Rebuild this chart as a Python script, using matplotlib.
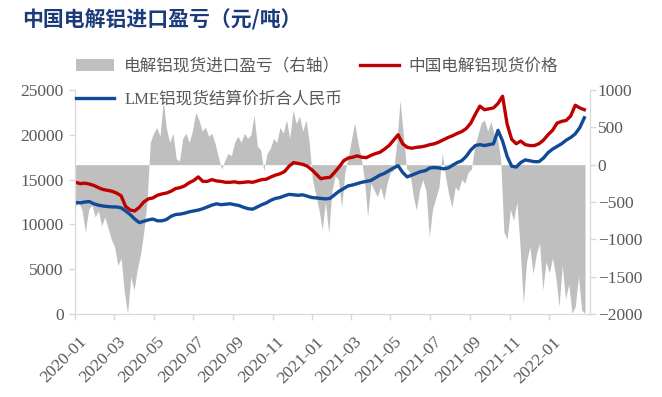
import numpy as np
import pandas as pd
import matplotlib
matplotlib.use("Agg")
import matplotlib.pyplot as plt
import matplotlib.dates as mdates
import matplotlib.transforms as mtransforms
from matplotlib.patches import Patch
from matplotlib.lines import Line2D

# weekly prices (yuan/ton), starting 2020-01-02
price_dates = pd.date_range("2020-01-02", periods=113, freq="7D")
cn_spot = [
    14700, 14550, 14600, 14500, 14350, 14100, 13900, 13800, 13700, 13500,
    13200, 12000, 11600, 11500, 11900, 12500, 12850, 12950, 13250, 13400,
    13500, 13700, 14000, 14100, 14300, 14650, 14900, 15300, 14800, 14800,
    15000, 14850, 14800, 14700, 14700, 14750, 14650, 14700, 14750, 14700,
    14850, 15000, 15050, 15300, 15500, 15650, 15900, 16500, 16900, 16800,
    16700, 16500, 16100, 15600, 15100, 15200, 15250, 15800, 16400, 17100,
    17400, 17500, 17650, 17500, 17450, 17700, 17900, 18050, 18400, 18800,
    19400, 20000, 19000, 18600, 18500, 18600, 18650, 18750, 18900, 19000,
    19200, 19450, 19700, 19900, 20150, 20350, 20700, 21300, 22300, 23200,
    22800, 22900, 23000, 23500, 24300, 21200, 19500, 19000, 19300, 18900,
    18800, 18800, 19000, 19400, 20000, 20500, 21300, 21500, 21600, 22100,
    23300, 23000, 22800,
]
lme_rmb = [
    12450, 12400, 12500, 12550, 12300, 12150, 12050, 12000, 11950, 11950,
    11850, 11500, 11100, 10600, 10200, 10350, 10500, 10600, 10400, 10400,
    10550, 10900, 11100, 11150, 11250, 11400, 11500, 11600, 11750, 11950,
    12150, 12300, 12200, 12250, 12300, 12200, 12100, 11900, 11750, 11700,
    11950, 12200, 12400, 12700, 12900, 13000, 13200, 13350, 13300, 13250,
    13300, 13150, 13000, 12950, 12900, 12850, 12900, 13300, 13700, 14000,
    14300, 14400, 14550, 14700, 14800, 14900, 15200, 15500, 15700, 16000,
    16300, 16550, 15800, 15300, 15500, 15700, 15900, 16000, 16300, 16350,
    16300, 16200, 16300, 16600, 16900, 17100, 17600, 18300, 18800, 18900,
    18800, 18900, 19000, 20500, 19300, 17600, 16500, 16400, 16900, 17200,
    17100, 17000, 17000, 17400, 18000, 18400, 18700, 19000, 19400, 19700,
    20100, 20800, 21900,
]

# import profit/loss (right axis), every 5 days from 2020-01-02
pl_dates = pd.date_range("2020-01-02", periods=158, freq="5D")
import_pl = [
    -560, -500, -620, -900, -600, -540, -700, -620, -820, -700,
    -850, -1000, -1100, -1350, -1250, -1700, -2000, -1500, -1680, -1400,
    -1200, -900, -500, 300, 420, 500, 380, 850, 480, 300,
    420, 80, 50, 350, 420, 300, 450, 700, 600, 450,
    500, 380, 420, 280, 100, -60, 60, 150, 120, 300,
    380, 300, 420, 350, 400, 660, 250, 200, -80, 150,
    220, 350, 300, 500, 420, 600, 350, 730, 550, 650,
    450, 600, 300, -200, -400, -600, -870, -500, -920, -350,
    -150, -200, -570, -100, 100, 330, 560, 300, 100, -200,
    -700, -250, -340, -430, -300, -470, -250, -100, -80, 300,
    866, 400, -50, -100, -400, -610, -340, -200, -350, -970,
    -600, -450, -300, 150, -160, -400, -570, -300, -350, -200,
    -250, -100, -60, 250, 400, 560, 600, 450, 580, 400,
    350, 80, -900, -1000, -600, -750, -500, -1100, -1860, -1300,
    -1100, -1460, -1200, -1050, -1680, -1300, -1450, -1250, -1500, -1900,
    -1350, -1800, -1600, -1990, -1900, -1500, -1950, -1990,
]

x_ticks = pd.date_range("2020-01-01", "2022-01-01", freq="2MS")

label_pl = "电解铝现货进口盈亏（右轴）"
label_cn = "中国电解铝现货价格"
label_lme = "LME铝现货结算价折合人民币"

RED = "#C00000"
BLUE = "#114A96"
GRAY = "#BFBFBF"
TXT = "#595959"
SPINE = "#D9D9D9"
fam = ["Liberation Serif", "Noto Sans CJK SC"]

fig = plt.figure(figsize=(6.62, 3.97), dpi=100)
ax = fig.add_axes([0.1133, 0.2091, 0.7772, 0.5642])
ax2 = ax.twinx()

# gray area on the right axis, behind the lines
ax2.fill_between(pl_dates, import_pl, 0, color=GRAY, linewidth=0)
ax2.set_ylim(-2000, 1000)
ax2.set_yticks(np.arange(-2000, 1001, 500))

ax.plot(price_dates, cn_spot, color=RED, linewidth=2.4)
ax.plot(price_dates, lme_rmb, color=BLUE, linewidth=2.4)
ax.set_ylim(0, 25000)
ax.set_yticks(np.arange(0, 25001, 5000))
ax.set_zorder(ax2.get_zorder() + 1)
ax.patch.set_visible(False)

ax.set_xlim(pd.Timestamp("2020-01-01"), pd.Timestamp("2022-03-04"))
ax.set_xticks(x_ticks)
ax.xaxis.set_major_formatter(mdates.DateFormatter("%Y-%m"))

for a in (ax, ax2):
    for s in a.spines.values():
        s.set_color(SPINE)
    a.spines["top"].set_visible(False)
    a.tick_params(colors=SPINE, labelcolor=TXT, length=4.5, width=1)
ax.tick_params(axis="y", labelsize=12.5, pad=3.5)
ax2.tick_params(axis="y", labelsize=12.5, pad=1.5)
ax.tick_params(axis="x", labelsize=12.5, pad=14)
for lab in ax.get_xticklabels() + ax.get_yticklabels() + ax2.get_yticklabels():
    lab.set_fontfamily("Liberation Serif")
shift = mtransforms.ScaledTranslation(9 / 100, 0, fig.dpi_scale_trans)
for lab in ax.get_xticklabels():
    lab.set_rotation(45)
    lab.set_ha("right")
    lab.set_va("center")
    lab.set_rotation_mode("anchor")
    lab.set_transform(lab.get_transform() + shift)

handles = [
    Patch(facecolor=GRAY, edgecolor="none"),
    Line2D([], [], color=BLUE, linewidth=2.4),
    Line2D([], [], color=RED, linewidth=2.4),
]
leg = fig.legend(handles, [label_pl, label_lme, label_cn], ncol=2,
                 loc="upper left", bbox_to_anchor=(0.092, 0.89),
                 frameon=False, prop={"family": fam, "size": 12},
                 handlelength=2.3, handletextpad=0.6, columnspacing=1.1,
                 labelspacing=1.0)
for t in leg.get_texts():
    t.set_color(TXT)

fig.text(0.033, 0.95, "中国电解铝进口盈亏（元/吨）", fontsize=15,
         fontweight="bold", color="#1B3A7A", family="Noto Sans CJK SC",
         va="center", ha="left")

fig.savefig("out.png", dpi=100)
